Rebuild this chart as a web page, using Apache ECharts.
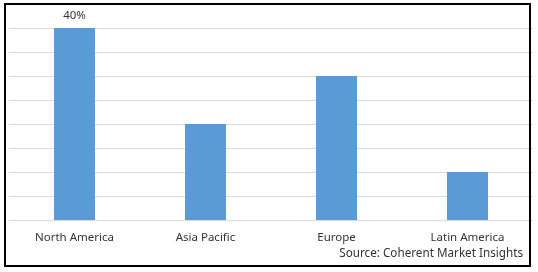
<!DOCTYPE html>
<html><head><meta charset="utf-8">
<script src="https://cdn.jsdelivr.net/npm/echarts@6/dist/echarts.min.js"></script>
<style>html,body{margin:0;padding:0;background:#fff}#c{width:538px;height:272px}</style>
</head><body><div id="c"></div>
<script>
const categories = ["North America", "Asia Pacific", "Europe", "Latin America"];
const shares = [40, 20, 30, 10];
const labelledIndex = 0;
const sourceText = "Source: Coherent Market Insights";

const chart = echarts.init(document.getElementById('c'), null, {renderer: 'canvas'});
chart.setOption({
  animation: false,
  backgroundColor: '#fff',
  grid: {left: 9, right: 5, top: 28, bottom: 52, containLabel: false},
  xAxis: {
    type: 'category', data: categories,
    axisLine: {show: false}, axisTick: {show: false},
    axisLabel: {color: '#333', fontFamily: 'Noto Sans', fontSize: 11.5, margin: 12}
  },
  yAxis: {
    type: 'value', min: 0, max: 40, interval: 5,
    axisLabel: {show: false}, axisLine: {show: false}, axisTick: {show: false},
    splitLine: {lineStyle: {color: '#d9d9d9', width: 1}}
  },
  series: [{
    type: 'bar', barWidth: 41,
    itemStyle: {color: '#5b9bd5'},
    data: shares.map((v, i) => ({
      value: v,
      label: {show: i === labelledIndex, position: 'top', distance: 6,
        formatter: '{c}%', color: '#333', fontFamily: 'Noto Sans', fontSize: 11.5}
    }))
  }],
  graphic: [
    {type: 'rect', shape: {x: 5, y: 4, width: 525, height: 262},
     style: {fill: 'none', stroke: '#000', lineWidth: 2}, silent: true, z: 100},
    {type: 'text', right: 15, top: 248,
     style: {text: sourceText, fill: '#333', font: '11.7px "Noto Sans"'}}
  ]
});
</script></body></html>
